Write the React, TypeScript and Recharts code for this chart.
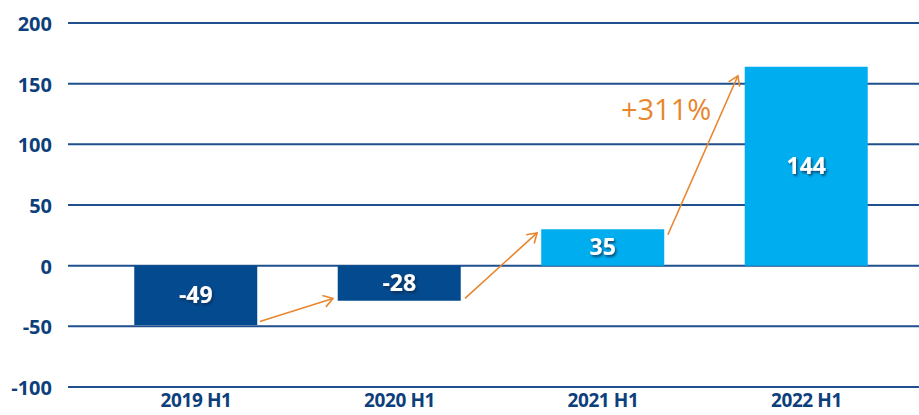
import React from "react";
import {
  ComposedChart,
  Bar,
  Cell,
  XAxis,
  YAxis,
  CartesianGrid,
  LabelList,
  ReferenceLine,
  ReferenceDot,
} from "recharts";

// ---- data ----
const categories = ["2019 H1", "2020 H1", "2021 H1", "2022 H1"];
const barValues = [-49, -29, 30, 164];
const barLabels = ["-49", "-28", "35", "144"];
const barColors = ["#034a8e", "#034a8e", "#00aeef", "#00aeef"];
const yTicks = [-100, -50, 0, 50, 100, 150, 200];
const xPositions = [0, 1, 2, 3];

// growth arrows (data space: x in category index units, y in value units)
const arrowStartX = [0.314, 1.322, 2.319];
const arrowStartY = [-46, -27, 25.5];
const arrowEndX = [0.673, 1.676, 2.663];
const arrowEndY = [-27, 27, 156.5];
const growthText = "+311%";
const growthPos = { x: 2.31, y: 128 };

const data = xPositions.map((x, i) => ({
  x,
  value: barValues[i],
  label: barLabels[i],
}));

const BLUE = "#0d3f7c";
const ORANGE = "#e8862e";
const FONT = "'Open Sans', 'Noto Sans', sans-serif";

const Arrow = (props: any) => {
  const { x1, y1, x2, y2 } = props;
  const ang = Math.atan2(y2 - y1, x2 - x1);
  const len = 11;
  const spread = Math.PI / 5.5;
  const ax1 = x2 - len * Math.cos(ang - spread);
  const ay1 = y2 - len * Math.sin(ang - spread);
  const ax2 = x2 - len * Math.cos(ang + spread);
  const ay2 = y2 - len * Math.sin(ang + spread);
  return (
    <g>
      <line x1={x1} y1={y1} x2={x2} y2={y2} stroke={ORANGE} strokeWidth={1.6} />
      <polyline
        points={`${ax1},${ay1} ${x2},${y2} ${ax2},${ay2}`}
        fill="none"
        stroke={ORANGE}
        strokeWidth={1.6}
      />
    </g>
  );
};

const YTick = (props: any) => {
  const { x, y, payload } = props;
  return (
    <text
      x={x}
      y={y}
      dy={8}
      textAnchor="end"
      fontFamily={FONT}
      fontWeight={700}
      fontSize={20}
      fill={BLUE}
    >
      {payload.value}
    </text>
  );
};

const XTick = (props: any) => {
  const { x, y, payload } = props;
  return (
    <text
      x={x}
      y={y}
      dy={12}
      textAnchor="middle"
      fontFamily={FONT}
      fontWeight={700}
      fontSize={19}
      letterSpacing={-0.4}
      fill={BLUE}
    >
      {categories[payload.value]}
    </text>
  );
};

const BarLabel = (props: any) => {
  const { x, y, width, height, index } = props;
  const cx = x + width / 2;
  const cy = y + height / 2;
  return (
    <text
      x={cx}
      y={cy}
      dy={8}
      textAnchor="middle"
      fontFamily={FONT}
      fontWeight={700}
      fontSize={23}
      fill="#ffffff"
      filter="url(#txtShadow)"
    >
      {barLabels[index]}
    </text>
  );
};

const GrowthLabel = (props: any) => {
  const { cx, cy } = props;
  return (
    <text
      x={cx}
      y={cy}
      dy={10}
      textAnchor="middle"
      fontFamily={FONT}
      fontWeight={400}
      fontSize={29}
      fill={ORANGE}
    >
      {growthText}
    </text>
  );
};

export default function App() {
  return (
    <div style={{ position: "absolute", left: 0, top: 0, width: 919, height: 415, background: "#fff" }}>
      <ComposedChart
        width={919}
        height={415}
        data={data}
        margin={{ top: 23, right: 0, bottom: 0, left: 0 }}
      >
        <defs>
          <filter id="txtShadow" x="-20%" y="-20%" width="150%" height="150%">
            <feDropShadow dx="1.5" dy="2" stdDeviation="1" floodColor="#0a2850" floodOpacity="0.75" />
          </filter>
        </defs>
        <CartesianGrid horizontal vertical={false} stroke="#1f4f8c" strokeWidth={2} strokeOpacity={1} />
        <XAxis
          dataKey="x"
          type="number"
          domain={[-0.629, 3.553]}
          ticks={xPositions}
          allowDataOverflow
          axisLine={false}
          tickLine={false}
          height={28}
          tick={<XTick />}
          interval={0}
        />
        <YAxis
          type="number"
          domain={[-100, 200]}
          ticks={yTicks}
          allowDataOverflow
          axisLine={false}
          tickLine={false}
          tickSize={0}
          tickMargin={16}
          width={68}
          tick={<YTick />}
          interval={0}
        />
        <Bar dataKey="value" barSize={123} isAnimationActive={false}>
          {data.map((d, i) => (
            <Cell key={i} fill={barColors[i]} />
          ))}
          <LabelList dataKey="label" content={<BarLabel />} />
        </Bar>
        {arrowStartX.map((sx, i) => (
          <ReferenceLine
            key={i}
            segment={[
              { x: sx, y: arrowStartY[i] },
              { x: arrowEndX[i], y: arrowEndY[i] },
            ]}
            ifOverflow="visible"
            shape={<Arrow />}
          />
        ))}
        <ReferenceDot
          x={growthPos.x}
          y={growthPos.y}
          r={0}
          ifOverflow="visible"
          shape={<GrowthLabel />}
        />
      </ComposedChart>
    </div>
  );
}
